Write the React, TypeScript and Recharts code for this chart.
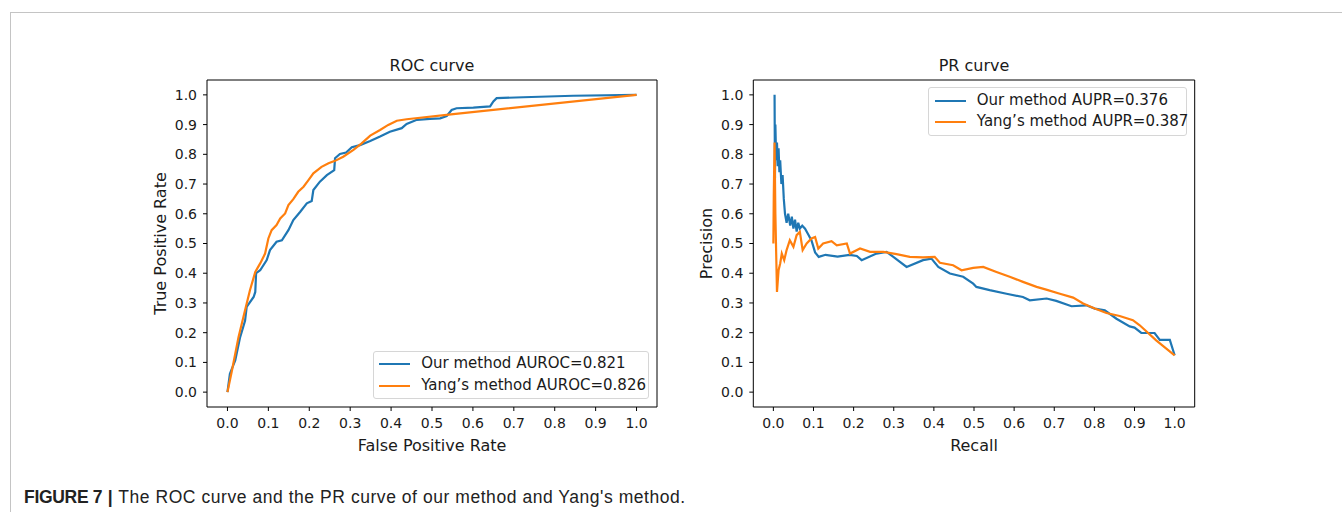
import React from "react";
import { LineChart, Line, XAxis, YAxis, ReferenceArea, Legend, Label } from "recharts";

// tick values shared by both panels
const axisTicks = [0, 0.1, 0.2, 0.3, 0.4, 0.5, 0.6, 0.7, 0.8, 0.9, 1.0];

// ROC curve, our method
const rocOurFpr = [0, 0.006, 0.019, 0.031, 0.043, 0.047, 0.064, 0.068, 0.07, 0.08, 0.096, 0.104, 0.12, 0.133, 0.149, 0.161, 0.178, 0.194, 0.206, 0.21, 0.226, 0.243, 0.261, 0.263, 0.275, 0.29, 0.304, 0.324, 0.349, 0.373, 0.397, 0.426, 0.438, 0.463, 0.495, 0.52, 0.536, 0.548, 0.56, 0.601, 0.642, 0.65, 0.658, 0.723, 0.845, 1.0];
const rocOurTpr = [0, 0.062, 0.107, 0.185, 0.24, 0.287, 0.32, 0.337, 0.4, 0.41, 0.444, 0.478, 0.506, 0.511, 0.545, 0.579, 0.607, 0.635, 0.643, 0.68, 0.708, 0.73, 0.747, 0.787, 0.801, 0.806, 0.824, 0.831, 0.845, 0.86, 0.876, 0.888, 0.902, 0.916, 0.919, 0.921, 0.929, 0.949, 0.955, 0.957, 0.961, 0.978, 0.989, 0.992, 0.997, 1.0];

// ROC curve, Yang's method
const rocYangFpr = [0, 0.011, 0.027, 0.039, 0.055, 0.068, 0.08, 0.092, 0.1, 0.108, 0.12, 0.129, 0.141, 0.149, 0.161, 0.173, 0.186, 0.198, 0.21, 0.23, 0.247, 0.263, 0.283, 0.308, 0.328, 0.349, 0.373, 0.393, 0.414, 0.438, 0.552, 1.0];
const rocYangTpr = [0, 0.073, 0.185, 0.253, 0.343, 0.404, 0.433, 0.466, 0.517, 0.545, 0.562, 0.584, 0.601, 0.629, 0.649, 0.674, 0.691, 0.713, 0.736, 0.758, 0.77, 0.778, 0.792, 0.815, 0.837, 0.863, 0.882, 0.899, 0.913, 0.918, 0.935, 1.0];

// PR curve, our method
const prOurRecall = [0.003, 0.004, 0.005, 0.007, 0.009, 0.011, 0.013, 0.015, 0.017, 0.02, 0.023, 0.026, 0.029, 0.033, 0.037, 0.042, 0.046, 0.05, 0.054, 0.058, 0.062, 0.066, 0.072, 0.079, 0.087, 0.095, 0.104, 0.113, 0.13, 0.16, 0.19, 0.208, 0.22, 0.257, 0.282, 0.299, 0.332, 0.373, 0.394, 0.411, 0.44, 0.473, 0.498, 0.506, 0.539, 0.581, 0.622, 0.639, 0.681, 0.705, 0.743, 0.78, 0.801, 0.826, 0.855, 0.888, 0.9, 0.917, 0.95, 0.963, 0.988, 1.0];
const prOurPrecision = [1.0, 0.72, 0.9, 0.78, 0.84, 0.76, 0.82, 0.74, 0.78, 0.7, 0.73, 0.65, 0.6, 0.57, 0.6, 0.56, 0.59, 0.55, 0.58, 0.54, 0.57, 0.55, 0.56, 0.55, 0.53, 0.51, 0.47, 0.455, 0.462, 0.456, 0.462, 0.458, 0.444, 0.466, 0.472, 0.455, 0.421, 0.444, 0.449, 0.421, 0.399, 0.388, 0.365, 0.354, 0.343, 0.331, 0.32, 0.309, 0.315, 0.307, 0.289, 0.292, 0.281, 0.275, 0.247, 0.221, 0.217, 0.199, 0.199, 0.176, 0.176, 0.124];

// PR curve, Yang's method
const prYangRecall = [0, 0.001, 0.003, 0.005, 0.009, 0.013, 0.017, 0.021, 0.027, 0.033, 0.041, 0.05, 0.058, 0.066, 0.073, 0.083, 0.095, 0.104, 0.112, 0.124, 0.145, 0.158, 0.183, 0.191, 0.216, 0.241, 0.274, 0.307, 0.34, 0.373, 0.402, 0.415, 0.448, 0.469, 0.498, 0.523, 0.556, 0.589, 0.622, 0.656, 0.68, 0.714, 0.747, 0.772, 0.801, 0.83, 0.863, 0.896, 0.913, 0.954, 1.0];
const prYangPrecision = [0.5, 0.66, 0.84, 0.6, 0.337, 0.41, 0.433, 0.466, 0.444, 0.478, 0.511, 0.489, 0.528, 0.539, 0.478, 0.5, 0.517, 0.522, 0.483, 0.5, 0.508, 0.494, 0.5, 0.466, 0.483, 0.472, 0.472, 0.464, 0.455, 0.453, 0.455, 0.435, 0.427, 0.41, 0.418, 0.421, 0.404, 0.388, 0.371, 0.354, 0.345, 0.331, 0.318, 0.298, 0.281, 0.266, 0.256, 0.242, 0.225, 0.174, 0.124];

const rocLegend = ["Our method AUROC=0.821", "Yang\u2019s method AUROC=0.826"];
const prLegend = ["Our method AUPR=0.376", "Yang\u2019s method AUPR=0.387"];

const BLUE = "#1f77b4";
const ORANGE = "#ff7f0e";
const FONT = '"DejaVu Sans", sans-serif';
const W = 1342;
const H = 512;
const PLOT_TOP = 80;
const PLOT_BOTTOM = 407;
const Y_AXIS_W = 60;

const toPoints = (xs: number[], ys: number[]) => xs.map((x, i) => ({ x, y: ys[i] }));

function legendContent(box: { left: number; top: number; width: number; height: number }) {
  return (props: any) => {
    const items = props.payload || [];
    return (
      <div
        style={{
          position: "absolute",
          left: box.left,
          top: box.top,
          width: box.width,
          height: box.height,
          boxSizing: "border-box",
          border: "1px solid #d6d6d6",
          borderRadius: 3,
          background: "rgba(255,255,255,0.8)",
          fontFamily: FONT,
          fontSize: 15,
          color: "#1a1a1a",
        }}
      >
        {items.map((entry: any, i: number) => (
          <div
            key={entry.value}
            style={{ position: "absolute", left: 0, top: 1.5 + i * 21.7, height: 21.7, display: "flex", alignItems: "center", whiteSpace: "nowrap" }}
          >
            <span style={{ display: "inline-block", marginLeft: 5.5, width: 31, height: 2.2, background: entry.color }} />
            <span style={{ marginLeft: 11, lineHeight: "21.7px" }}>{entry.value}</span>
          </div>
        ))}
      </div>
    );
  };
}

interface PanelProps {
  plotLeft: number;
  plotRight: number;
  title: string;
  xLabel: string;
  yLabel: string;
  ourPoints: { x: number; y: number }[];
  yangPoints: { x: number; y: number }[];
  names: string[];
  legendBox: { left: number; top: number; width: number; height: number };
}

function CurvePanel({ plotLeft, plotRight, title, xLabel, yLabel, ourPoints, yangPoints, names, legendBox }: PanelProps) {
  const centerX = (plotLeft + plotRight) / 2;
  const centerY = (PLOT_TOP + PLOT_BOTTOM) / 2;
  const tickStyle = { fontSize: 14, fontFamily: FONT, fill: "#1a1a1a" };
  return (
    <div style={{ position: "absolute", left: 0, top: 0, width: W, height: H }}>
      <div
        style={{
          position: "absolute",
          left: centerX - 100,
          width: 200,
          top: 57.5,
          textAlign: "center",
          fontFamily: FONT,
          fontSize: 16,
          lineHeight: "16px",
          color: "#1a1a1a",
        }}
      >
        {title}
      </div>
      <LineChart
        width={W}
        height={H}
        margin={{ top: PLOT_TOP, bottom: H - PLOT_BOTTOM - 50, left: plotLeft - Y_AXIS_W, right: W - plotRight }}
      >
        <XAxis
          type="number"
          dataKey="x"
          domain={[-0.05, 1.05]}
          ticks={axisTicks}
          allowDataOverflow
          height={50}
          tickFormatter={(v: number) => v.toFixed(1)}
          tick={tickStyle}
          tickSize={4}
          tickMargin={7}
          axisLine={false}
          tickLine={{ stroke: "#000" }}
        >
          <Label
            content={() => (
              <text x={centerX} y={PLOT_BOTTOM + 44} textAnchor="middle" fontFamily={FONT} fontSize={16} fill="#1a1a1a">
                {xLabel}
              </text>
            )}
          />
        </XAxis>
        <YAxis
          type="number"
          dataKey="y"
          domain={[-0.05, 1.05]}
          ticks={axisTicks}
          allowDataOverflow
          width={Y_AXIS_W}
          tickFormatter={(v: number) => v.toFixed(1)}
          tick={tickStyle}
          tickSize={4}
          tickMargin={6}
          axisLine={false}
          tickLine={{ stroke: "#000" }}
        >
          <Label
            content={() => (
              <text
                x={plotLeft - 41}
                y={centerY}
                textAnchor="middle"
                transform={`rotate(-90 ${plotLeft - 41} ${centerY})`}
                fontFamily={FONT}
                fontSize={16}
                fill="#1a1a1a"
              >
                {yLabel}
              </text>
            )}
          />
        </YAxis>
        <ReferenceArea x1={-0.05} x2={1.05} y1={-0.05} y2={1.05} fill="none" stroke="#000" strokeWidth={1} ifOverflow="visible" />
        <Line data={ourPoints} dataKey="y" name={names[0]} stroke={BLUE} strokeWidth={2.2} dot={false} isAnimationActive={false} />
        <Line data={yangPoints} dataKey="y" name={names[1]} stroke={ORANGE} strokeWidth={2.2} dot={false} isAnimationActive={false} />
        <Legend
          layout="horizontal"
          align="center"
          verticalAlign="middle"
          wrapperStyle={{ position: "absolute", left: 0, top: 0, width: 0, height: 0 }}
          content={legendContent(legendBox)}
        />
      </LineChart>
    </div>
  );
}

export default function App() {
  return (
    <div style={{ position: "absolute", left: 0, top: 0, width: W, height: H, background: "#fff", overflow: "hidden" }}>
      <div style={{ position: "absolute", left: 10, right: 0, top: 12, height: 1, background: "#c4c4c4" }} />
      <div style={{ position: "absolute", left: 10, top: 12, bottom: 0, width: 1, background: "#c4c4c4" }} />
      <CurvePanel
        plotLeft={207}
        plotRight={657}
        title="ROC curve"
        xLabel="False Positive Rate"
        yLabel="True Positive Rate"
        ourPoints={toPoints(rocOurFpr, rocOurTpr)}
        yangPoints={toPoints(rocYangFpr, rocYangTpr)}
        names={rocLegend}
        legendBox={{ left: 372.7, top: 350.7, width: 276.6, height: 48.3 }}
      />
      <CurvePanel
        plotLeft={753.3}
        plotRight={1194.7}
        title="PR curve"
        xLabel="Recall"
        yLabel="Precision"
        ourPoints={toPoints(prOurRecall, prOurPrecision)}
        yangPoints={toPoints(prYangRecall, prYangPrecision)}
        names={prLegend}
        legendBox={{ left: 928.3, top: 87.3, width: 258.4, height: 48.7 }}
      />
      <div
        style={{
          position: "absolute",
          left: 24,
          top: 489,
          fontFamily: '"Liberation Sans", Arial, sans-serif',
          fontSize: 17.5,
          lineHeight: "17.5px",
          color: "#222",
          whiteSpace: "nowrap",
        }}
      >
        <b style={{ letterSpacing: -0.3 }}>FIGURE 7</b>
        <span style={{ letterSpacing: 0.55 }}>
          {" "}
          <b>|</b> The ROC curve and the PR curve of our method and Yang's method.
        </span>
      </div>
    </div>
  );
}
